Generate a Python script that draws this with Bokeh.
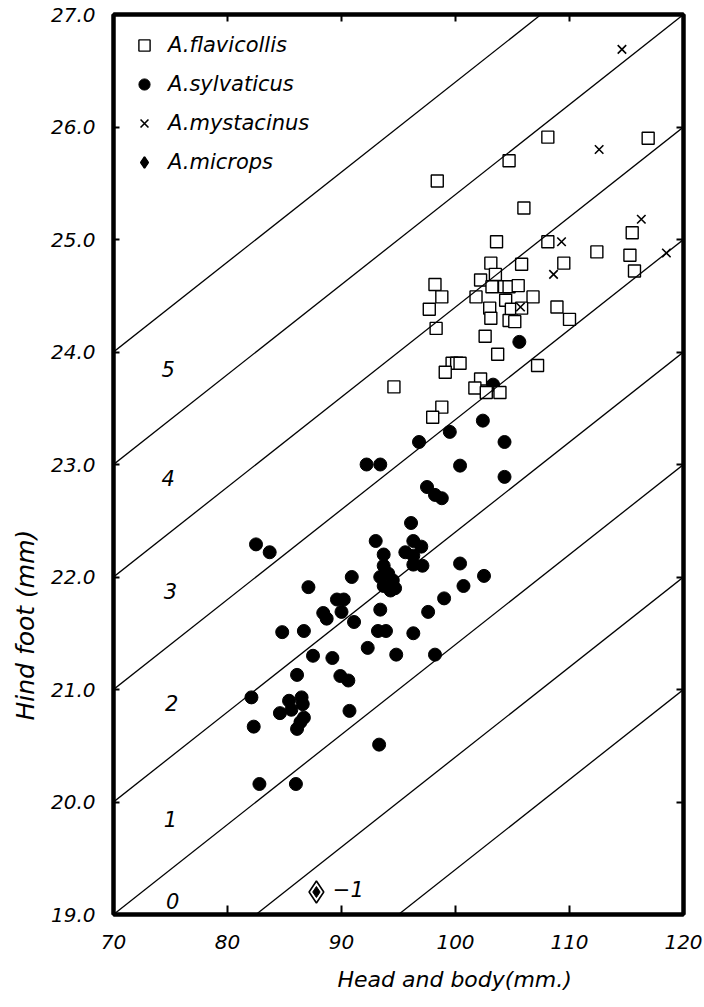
import numpy as np
from bokeh.plotting import figure
from bokeh.models import (Range1d, LinearAxis, FixedTicker, Slope, Legend, LegendItem,
                          Title, PrintfTickFormatter)
from bokeh.core.properties import value
from bokeh.embed import file_html
from bokeh.resources import INLINE

# ---------------- data ----------------
flav_x = [98.4, 104.7, 108.1, 116.9, 106.0, 103.6, 108.1, 112.4, 115.5, 115.3, 115.7, 109.5,
          105.8, 103.1, 103.5, 102.2, 98.2, 98.8, 101.8, 103.2, 104.3, 104.7, 105.5, 106.8,
          97.7, 103.0, 104.4, 104.9, 105.8, 108.9, 110.0, 103.1, 104.7, 105.2, 98.3, 102.6,
          103.7, 107.2, 99.7, 100.1, 100.4, 99.1, 94.6, 102.2, 101.7, 102.7, 103.9, 98.8, 98.0]
flav_y = [25.52, 25.70, 25.91, 25.90, 25.28, 24.98, 24.98, 24.89, 25.06, 24.86, 24.72, 24.79,
          24.78, 24.79, 24.69, 24.64, 24.60, 24.49, 24.49, 24.58, 24.58, 24.58, 24.59, 24.49,
          24.38, 24.39, 24.46, 24.38, 24.39, 24.40, 24.29, 24.30, 24.28, 24.27, 24.21, 24.14,
          23.98, 23.88, 23.90, 23.90, 23.90, 23.82, 23.69, 23.76, 23.68, 23.64, 23.64, 23.51, 23.42]

sylv_x = [105.6, 103.3, 102.4, 99.5, 96.8, 104.3, 92.2, 93.4, 100.4, 104.3, 97.5, 98.2, 98.8,
          96.1, 93.0, 96.3, 97.0, 93.7, 95.6, 96.3, 93.7, 96.3, 97.1, 100.4, 90.9, 93.4, 94.1,
          94.5, 93.7, 94.7, 94.3, 102.5, 100.7, 99.0, 89.6, 90.2, 87.1, 90.0, 93.4, 88.4, 88.7,
          91.1, 97.6, 86.7, 84.8, 93.2, 93.9, 96.3, 92.3, 94.8, 87.5, 89.2, 98.2, 89.9, 90.6,
          86.1, 82.5, 83.7, 82.1, 85.4, 86.5, 86.6, 84.6, 85.6, 86.7, 86.4, 86.1, 82.3, 90.7,
          93.3, 82.8, 86.0]
sylv_y = [24.09, 23.71, 23.39, 23.29, 23.20, 23.20, 23.00, 23.00, 22.99, 22.89, 22.80, 22.73,
          22.70, 22.48, 22.32, 22.32, 22.27, 22.20, 22.22, 22.19, 22.10, 22.11, 22.10, 22.12,
          22.00, 22.00, 22.03, 21.97, 21.92, 21.90, 21.88, 22.01, 21.92, 21.81, 21.80, 21.80,
          21.91, 21.69, 21.71, 21.68, 21.63, 21.60, 21.69, 21.52, 21.51, 21.52, 21.52, 21.50,
          21.37, 21.31, 21.30, 21.28, 21.31, 21.12, 21.08, 21.13, 22.29, 22.22, 20.93, 20.90,
          20.93, 20.87, 20.79, 20.82, 20.75, 20.71, 20.65, 20.67, 20.81, 20.51, 20.16, 20.16]

myst_x = [114.6, 112.6, 116.3, 118.5, 108.6, 109.3, 105.7]
myst_y = [26.69, 25.80, 25.18, 24.88, 24.69, 24.98, 24.40]

microps_x = [87.8]
microps_y = [19.2]

series_names = ["A.flavicollis", "A.sylvaticus", "A.mystacinus", "A.microps"]

# family of diagonal lines: hind foot value at head and body = 70 mm, common slope
line_offsets = [17, 18, 19, 20, 21, 22, 23, 24]
line_slope = 0.08

zone_labels = ["5", "4", "3", "2", "1", "0", "\u22121"]
zone_x = [74.8, 74.8, 75.0, 75.1, 75.0, 75.2, 90.6]
zone_y = [23.85, 22.88, 21.88, 20.88, 19.85, 19.12, 19.23]

x_ticks = [70, 80, 90, 100, 110, 120]
y_ticks = [19, 20, 21, 22, 23, 24, 25, 26, 27]

x_title = "Head and body(mm.)"
y_title = "Hind foot (mm)"

FONT = "DejaVu Sans"

# ---------------- figure ----------------
p = figure(width=704, height=1007, x_range=Range1d(70, 120), y_range=Range1d(19, 27),
           output_backend="svg", toolbar_location=None,
           x_axis_location=None, y_axis_location=None,
           min_border_left=113, min_border_right=21, min_border_top=14, min_border_bottom=93,
           background_fill_color="white", border_fill_color="white")
p.outline_line_color = "black"
p.outline_line_width = 4
p.grid.visible = False


def make_axis(ticks, show_labels, tick_in):
    ax = LinearAxis(ticker=FixedTicker(ticks=ticks))
    ax.axis_line_color = "black"
    ax.axis_line_width = 4
    ax.major_tick_in = tick_in
    ax.major_tick_out = 0
    ax.major_tick_line_width = 2
    ax.minor_tick_line_color = None
    ax.major_label_text_font = FONT
    ax.major_label_text_font_style = "italic"
    ax.major_label_text_color = "black"
    if show_labels:
        ax.major_label_text_font_size = "20px"
    else:
        ax.major_label_text_font_size = "1px"
        ax.major_label_text_alpha = 0
        ax.major_label_standoff = 0
    return ax


xb = make_axis(x_ticks, True, 9)
xb.major_label_standoff = 20
yl = make_axis(y_ticks, True, 6)
yl.major_label_standoff = 18
yl.formatter = PrintfTickFormatter(format="%.1f")
xt = make_axis(x_ticks, False, 7)
yr = make_axis(y_ticks, False, 7)
p.add_layout(xb, "below")
p.add_layout(yl, "left")
p.add_layout(xt, "above")
p.add_layout(yr, "right")

# axis titles (placed off-centre as in the original)
p.add_layout(Title(text=x_title, align="left", offset=224, text_font=FONT,
                   text_font_style="italic", text_font_size="22px", text_color="black",
                   standoff=27), "below")
p.add_layout(Title(text=y_title, align="left", offset=194, text_font=FONT,
                   text_font_style="italic", text_font_size="25px", text_color="black",
                   standoff=16), "left")

# diagonal lines
for c in line_offsets:
    p.add_layout(Slope(gradient=line_slope, y_intercept=c - line_slope * 70,
                       line_color="black", line_width=1.3))

# points
r_sylv = p.scatter(sylv_x, sylv_y, marker="circle", size=13, fill_color="black",
                   line_color="black", line_width=1)
r_flav = p.scatter(flav_x, flav_y, marker="square", size=12, fill_color="white",
                   line_color="black", line_width=1.4)
r_myst = p.scatter(myst_x, myst_y, marker="x", size=12, line_color="black", line_width=1.6)
r_mic_o = p.scatter(microps_x, microps_y, marker="diamond", size=22, fill_color="white",
                    line_color="black", line_width=1.6)
r_mic_i = p.scatter(microps_x, microps_y, marker="diamond", size=11, fill_color="black",
                    line_color="black", line_width=1)

# zone labels
p.text(x=zone_x, y=zone_y, text=zone_labels, text_font=value(FONT),
       text_font_style="italic", text_font_size="21px", text_align="center",
       text_baseline="middle", text_color="black")

# legend
legend = Legend(items=[
    LegendItem(label=series_names[0], renderers=[r_flav]),
    LegendItem(label=series_names[1], renderers=[r_sylv]),
    LegendItem(label=series_names[2], renderers=[r_myst]),
    LegendItem(label=series_names[3], renderers=[r_mic_o, r_mic_i]),
], location="top_left")
legend.margin = 0
legend.padding = 17
legend.glyph_width = 28
legend.glyph_height = 28
legend.label_height = 28
legend.spacing = 11
legend.label_standoff = 10
legend.border_line_alpha = 0
legend.background_fill_alpha = 0
legend.label_text_font = FONT
legend.label_text_font_style = "italic"
legend.label_text_font_size = "21px"
legend.label_text_color = "black"
p.add_layout(legend)

open("out.html", "w").write(file_html(p, INLINE))
